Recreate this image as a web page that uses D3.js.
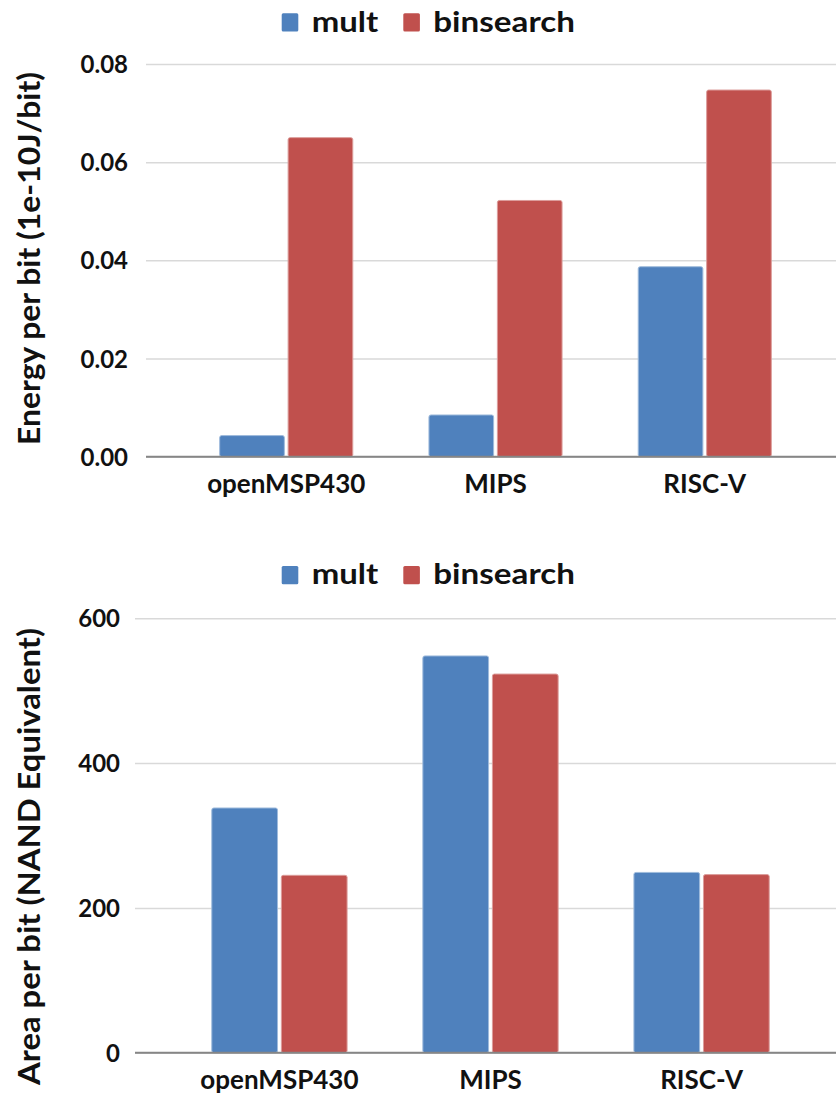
<!DOCTYPE html>
<html>
<head>
<meta charset="utf-8">
<script src="https://cdn.jsdelivr.net/npm/d3@7"></script>
<style>
html, body { margin: 0; padding: 0; background: #fff; }
svg { display: block; }
</style>
</head>
<body>
<svg id="chart" width="836" height="1095"></svg>
<script>
var categories      = ['openMSP430', 'MIPS', 'RISC-V'];
var seriesNames     = ['mult', 'binsearch'];
var energyMult      = [0.0043, 0.0085, 0.0387];
var energyBinsearch = [0.0650, 0.0522, 0.0747];
var areaMult        = [338, 548, 249];
var areaBinsearch   = [245, 523, 246];
var energyTicks     = [0, 0.02, 0.04, 0.06, 0.08];
var areaTicks       = [0, 200, 400, 600];

var FONT = 'Lato, "Open Sans", sans-serif';
var colors  = {mult: '#4f81bd', binsearch: '#c0504d'};
var strokes = {mult: '#9fbbdc', binsearch: '#dc9d9b'};
var W = 836;

function legend(svg, y0) {
    var items = [
        {name: 'mult',      sx: 281.7, tx: 311.7, tw: 66.6},
        {name: 'binsearch', sx: 403.3, tx: 433.3, tw: 141.7}
    ];
    var g = svg.append('g').attr('class', 'legend');
    g.selectAll('rect')
     .data(items)
     .enter().append('rect')
       .attr('x', function (d) { return d.sx; })
       .attr('y', y0)
       .attr('width', 16.6)
       .attr('height', 18.3)
       .attr('rx', 1.5)
       .attr('fill', function (d) { return colors[d.name]; });
    g.selectAll('text')
     .data(items)
     .enter().append('text')
       .attr('x', function (d) { return d.tx; })
       .attr('y', y0 + 18.4)
       .attr('textLength', function (d) { return d.tw; })
       .attr('lengthAdjust', 'spacingAndGlyphs')
       .attr('font-family', FONT)
       .attr('font-weight', 'bold')
       .attr('font-size', 28)
       .attr('fill', '#111')
       .text(function (d) { return d.name; });
}

function barchart(svg, opt) {
    var g = svg.append('g');

    var y  = d3.scaleLinear().domain([0, opt.max]).range([opt.bottom, opt.top]);
    var x  = d3.scaleBand().domain(categories).range(opt.band)
               .paddingInner(opt.pad).paddingOuter(0.333);
    var xs = d3.scaleBand().domain(seriesNames).range([0, x.bandwidth()]).paddingInner(0.055);

    var rows = categories.map(function (c, i) {
        return {cat: c, values: [
            {name: 'mult',      v: opt.mult[i]},
            {name: 'binsearch', v: opt.bin[i]}
        ]};
    });

    /* y axis and gridlines */
    var ya = g.append('g')
              .attr('transform', 'translate(' + opt.left + ',0)')
              .call(d3.axisLeft(y)
                      .tickValues(opt.ticks)
                      .tickFormat(opt.fmt)
                      .tickSize(-(W - opt.left))
                      .tickPadding(opt.left - opt.labelRight));
    ya.select('.domain').remove();
    ya.attr('font-family', FONT).attr('font-size', 24).attr('font-weight', 'bold');
    ya.selectAll('line').attr('stroke', '#d9d9d9').attr('stroke-width', 1.5);
    ya.selectAll('text').attr('fill', '#111').attr('dy', '0.36em');

    /* bars */
    var grp = g.selectAll('g.cat')
               .data(rows)
               .enter().append('g')
                 .attr('class', 'cat')
                 .attr('transform', function (d) { return 'translate(' + x(d.cat) + ',0)'; });
    grp.selectAll('rect')
       .data(function (d) { return d.values; })
       .enter().append('rect')
         .attr('x', function (d) { return xs(d.name); })
         .attr('y', function (d) { return y(d.v); })
         .attr('width', xs.bandwidth())
         .attr('height', function (d) { return y(0) - y(d.v); })
         .attr('rx', 2)
         .attr('fill', function (d) { return colors[d.name]; })
         .attr('stroke', function (d) { return strokes[d.name]; })
         .attr('stroke-width', 1);

    /* baseline */
    g.append('line')
     .attr('x1', opt.left)
     .attr('x2', W)
     .attr('y1', y(0))
     .attr('y2', y(0))
     .attr('stroke', '#868686')
     .attr('stroke-width', 2);

    /* category labels */
    g.selectAll('text.catlabel')
     .data(categories)
     .enter().append('text')
       .attr('class', 'catlabel')
       .attr('x', function (d) { return x(d) + x.bandwidth() / 2; })
       .attr('y', y(0) + 36)
       .attr('text-anchor', 'middle')
       .attr('font-family', FONT)
       .attr('font-weight', 'bold')
       .attr('font-size', 26)
       .attr('fill', '#111')
       .text(function (d) { return d; });

    /* axis title */
    g.append('text')
     .attr('transform', 'translate(40,' + opt.titleY + ') rotate(-90)')
     .attr('text-anchor', 'middle')
     .attr('textLength', opt.titleLen)
     .attr('lengthAdjust', 'spacingAndGlyphs')
     .attr('font-family', FONT)
     .attr('font-weight', 'bold')
     .attr('font-size', 30)
     .attr('fill', '#111')
     .text(opt.title);

    legend(svg, opt.legendY);
}

var svg = d3.select('#chart');

barchart(svg, {
    mult: energyMult, bin: energyBinsearch,
    max: 0.08, ticks: energyTicks, fmt: d3.format('.2f'),
    top: 64, bottom: 456.7, left: 146, labelRight: 128,
    band: [150, 841], pad: 0.364,
    title: 'Energy per bit (1e-10J/bit)', titleY: 258.5, titleLen: 373,
    legendY: 13.3
});

barchart(svg, {
    mult: areaMult, bin: areaBinsearch,
    max: 600, ticks: areaTicks, fmt: d3.format('d'),
    top: 618.3, bottom: 1052.7, left: 135, labelRight: 120,
    band: [141.5, 839.5], pad: 0.359,
    title: 'Area per bit (NAND Equivalent)', titleY: 856.5, titleLen: 457,
    legendY: 566
});
</script>
</body>
</html>
